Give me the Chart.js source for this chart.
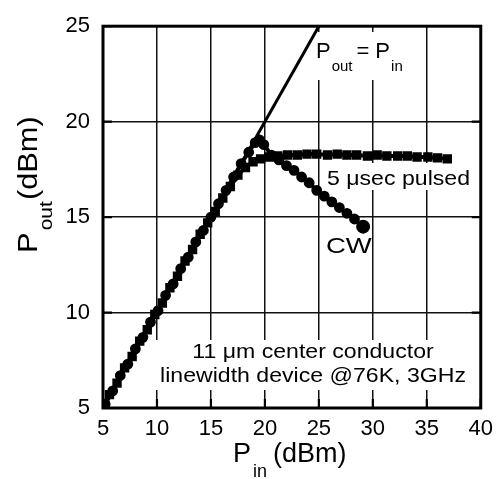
<!DOCTYPE html>
<html lang="en">
<head>
  <meta charset="UTF-8" />
  <title>Pout vs Pin</title>
  <script src="https://cdn.jsdelivr.net/npm/chart.js"></script>
  <style>
    html, body { margin: 0; padding: 0; background: #fff; }
    #wrap { width: 501px; height: 479px; position: relative; }
  </style>
</head>
<body>
  <div id="wrap"><canvas id="powerChart"></canvas></div>

  <script>
    // Axis tick values
    const xTickValues = [5, 10, 15, 20, 25, 30, 35, 40];
    const yTickValues = [5, 10, 15, 20, 25];

    // Reference line Pout = Pin
    const identityIn  = [5, 25];
    const identityOut = [5, 25];

    // 5 usec pulsed measurement
    const pulsedIn  = [5, 5.6, 6.3, 7, 7.7, 8.4, 9.1, 9.8, 10.5, 11.2, 11.9, 12.6, 13.3, 14, 14.7, 15.4, 16.1, 16.8, 17.5, 18.2, 18.9, 19.6, 20.4, 21.2, 22.1, 23, 23.9, 24.8, 25.8, 26.7, 27.6, 28.5, 29.5, 30.4, 31.3, 32.3, 33.2, 34.1, 35.1, 36, 36.9];
    const pulsedOut = [5, 5.7, 6.3, 7.1, 7.7, 8.5, 9.1, 9.9, 10.5, 11.3, 11.9, 12.7, 13.3, 14.1, 14.7, 15.3, 16, 16.6, 17.2, 17.6, 17.9, 18.05, 18.15, 18.2, 18.25, 18.25, 18.3, 18.3, 18.25, 18.3, 18.25, 18.25, 18.2, 18.25, 18.2, 18.2, 18.2, 18.15, 18.15, 18.1, 18.05];

    // CW measurement
    const cwIn  = [5.2, 5.9, 6.6, 7.3, 8, 8.7, 9.4, 10.1, 10.8, 11.5, 12.2, 12.9, 13.6, 14.3, 15, 15.7, 16.4, 17.1, 17.8, 18.5, 19.1, 19.5, 19.9, 20.6, 21.3, 22, 22.7, 23.4, 24.1, 24.8, 25.5, 26.2, 26.9, 27.6, 28.3, 29.1];
    const cwOut = [5.2, 5.9, 6.7, 7.3, 8.1, 8.7, 9.5, 10.1, 10.9, 11.5, 12.3, 12.9, 13.7, 14.3, 15, 15.7, 16.4, 17.1, 17.8, 18.4, 18.9, 19.05, 18.8, 18.25, 18, 17.7, 17.45, 17.1, 16.8, 16.4, 16.1, 15.8, 15.5, 15.2, 14.9, 14.5];

    const FONT = "'Liberation Sans', Arial, Helvetica, sans-serif";
    Chart.defaults.font.family = FONT;
    Chart.defaults.color = '#000';

    const toXY = (xs, ys) => xs.map((x, i) => ({ x: x, y: ys[i] }));

    // draws a run of text pieces (with subscripts) starting at a baseline point
    function drawParts(ctx, parts, x, y) {
      let cx = x;
      parts.forEach(p => {
        ctx.font = p.size + 'px ' + FONT;
        ctx.fillText(p.t, cx, y + (p.dy || 0));
        cx += ctx.measureText(p.t).width + (p.gap || 0);
      });
    }

    function scaledText(ctx, text, x, y, size, sx) {
      ctx.save();
      ctx.translate(x, y);
      ctx.scale(sx, 1);
      ctx.font = size + 'px ' + FONT;
      ctx.fillText(text, 0, 0);
      ctx.restore();
    }

    const framePlugin = {
      id: 'frame',
      beforeDatasetsDraw(chart) {
        const { ctx, chartArea: a, scales } = chart;
        const px = v => scales.x.getPixelForValue(v);
        const py = v => scales.y.getPixelForValue(v);
        ctx.save();
        // white patches where labels sit over the grid
        ctx.fillStyle = '#fff';
        ctx.fillRect(312, 32, 98, 48);
        ctx.fillRect(323, 163, 158, 27);
        ctx.fillRect(323, 231, 49, 26);
        ctx.fillRect(148, 340, 332, 50);

        ctx.strokeStyle = '#000';
        ctx.lineWidth = 3;
        ctx.strokeRect(a.left, a.top, a.right - a.left, a.bottom - a.top);

        // short inward ticks on the axis sides
        ctx.lineWidth = 2.2;
        ctx.beginPath();
        xTickValues.forEach(v => {
          ctx.moveTo(px(v), a.bottom); ctx.lineTo(px(v), a.bottom - 9);
        });
        yTickValues.forEach(v => {
          ctx.moveTo(a.left, py(v)); ctx.lineTo(a.left + 9, py(v));
          ctx.moveTo(a.right, py(v)); ctx.lineTo(a.right - 9, py(v));
        });
        ctx.stroke();
        ctx.restore();
      },
      afterDatasetsDraw(chart) {
        const { ctx } = chart;
        ctx.save();
        ctx.fillStyle = '#000';
        ctx.textBaseline = 'alphabetic';
        ctx.textAlign = 'left';

        drawParts(ctx, [
          { t: 'P', size: 22, gap: 1 },
          { t: 'out', size: 15, dy: 13, gap: 4 },
          { t: '=', size: 22, gap: 6 },
          { t: 'P', size: 22, gap: 1 },
          { t: 'in', size: 15, dy: 13 }
        ], 316, 58);

        scaledText(ctx, '5 \u03BCsec pulsed', 327, 185, 21, 1.1);
        scaledText(ctx, 'CW', 326, 253, 22, 1.25);

        ctx.save();
        ctx.textAlign = 'center';
        ctx.translate(313, 0);
        ctx.scale(1.1, 1);
        ctx.font = '21px ' + FONT;
        ctx.fillText('11 \u03BCm center conductor', 0, 358);
        ctx.fillText('linewidth device @76K, 3GHz', 0, 382);
        ctx.restore();

        // axis titles
        drawParts(ctx, [
          { t: 'P', size: 27, gap: 2 },
          { t: 'in', size: 18, dy: 15, gap: 6 },
          { t: '(dBm)', size: 27 }
        ], 233, 462);

        ctx.save();
        ctx.translate(37, 253);
        ctx.rotate(-Math.PI / 2);
        ctx.scale(1.1, 1);
        drawParts(ctx, [
          { t: 'P', size: 28, gap: 2 },
          { t: 'out', size: 19, dy: 15, gap: 1 },
          { t: '(dBm)', size: 28 }
        ], 0, 0);
        ctx.restore();

        ctx.restore();
      }
    };

    new Chart(document.getElementById('powerChart'), {
      type: 'scatter',
      data: {
        datasets: [
          {
            label: 'Pout = Pin',
            data: toXY(identityIn, identityOut),
            showLine: true,
            borderColor: '#000',
            borderWidth: 3,
            pointRadius: 0
          },
          {
            label: '5 usec pulsed',
            data: toXY(pulsedIn, pulsedOut),
            showLine: true,
            borderColor: '#000',
            backgroundColor: '#000',
            borderWidth: 4,
            pointStyle: 'rect',
            pointRadius: 3.8
          },
          {
            label: 'CW',
            data: toXY(cwIn, cwOut),
            showLine: true,
            borderColor: '#000',
            backgroundColor: '#000',
            borderWidth: 4,
            pointStyle: 'circle',
            pointRadius: c => (c.dataIndex === cwIn.length - 1 ? 5 : 3.4)
          }
        ]
      },
      options: {
        responsive: true,
        maintainAspectRatio: false,
        animation: false,
        layout: { padding: { top: 25, right: 16, left: 0, bottom: 0 } },
        plugins: { legend: { display: false }, tooltip: { enabled: false } },
        scales: {
          x: {
            type: 'linear',
            min: 5,
            max: 40,
            afterBuildTicks: s => { s.ticks = xTickValues.map(v => ({ value: v })); },
            afterFit: s => { s.height = 71; },
            ticks: { font: { size: 22 }, color: '#000', padding: 8, maxRotation: 0 },
            grid: { color: '#111', lineWidth: 1.5, drawTicks: false },
            border: { display: false }
          },
          y: {
            type: 'linear',
            min: 5,
            max: 25,
            afterBuildTicks: s => { s.ticks = yTickValues.map(v => ({ value: v })); },
            afterFit: s => { s.width = 103; },
            ticks: { font: { size: 22 }, color: '#000', padding: 13 },
            grid: { color: '#111', lineWidth: 1.5, drawTicks: false },
            border: { display: false }
          }
        }
      },
      plugins: [framePlugin]
    });
  </script>
</body>
</html>
